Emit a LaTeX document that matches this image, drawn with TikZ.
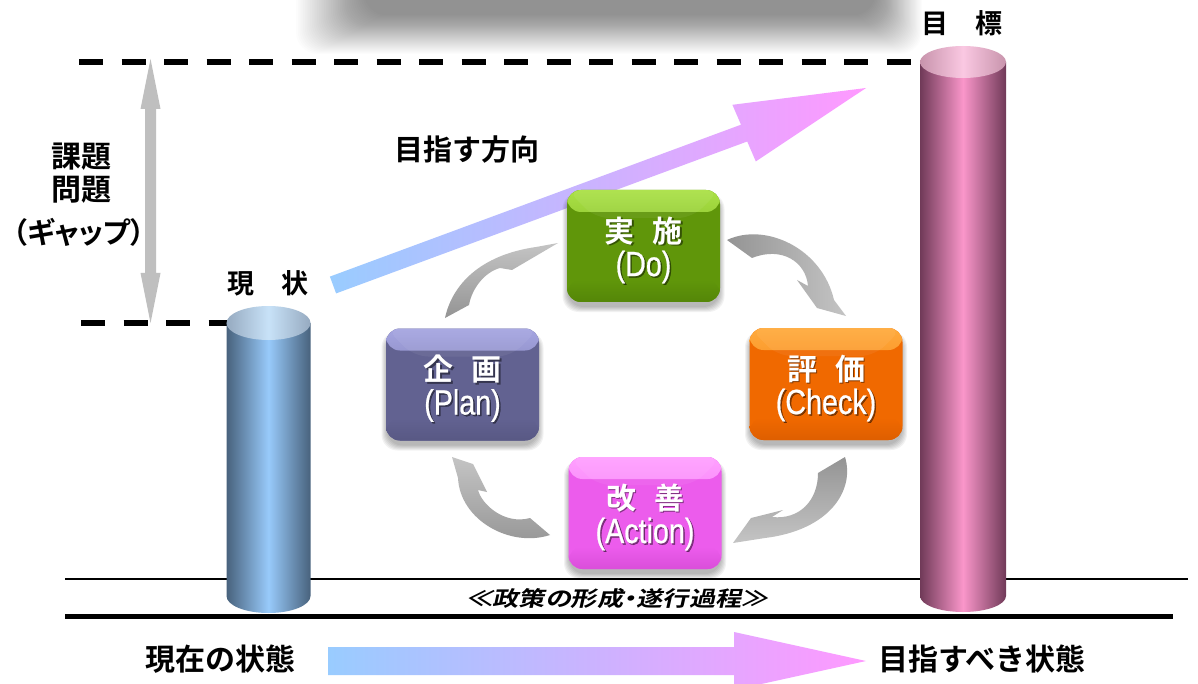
\documentclass[tikz,border=0pt]{standalone}
\usepackage{fontspec}
\newfontfamily\jpb{Noto Sans CJK JP Bold}
\newfontfamily\jpbp{Noto Sans CJK JP Bold}[RawFeature=+palt]
\newfontfamily\jpbi{Noto Sans CJK JP Bold}[FakeSlant=0.22,FakeStretch=1.25,RawFeature=+palt]
\newfontfamily\latn{Liberation Sans}[FakeStretch=0.82,FakeBold=0.6]

% palette
\definecolor{doMain}{RGB}{96,150,10}
\definecolor{doLight}{RGB}{170,225,70}
\definecolor{doDark}{RGB}{84,134,8}
\definecolor{planMain}{RGB}{98,98,145}
\definecolor{planLight}{RGB}{165,165,225}
\definecolor{planDark}{RGB}{88,88,132}
\definecolor{checkMain}{RGB}{240,105,0}
\definecolor{checkLight}{RGB}{255,170,60}
\definecolor{checkDark}{RGB}{222,94,0}
\definecolor{actMain}{RGB}{236,92,236}
\definecolor{actLight}{RGB}{255,160,255}
\definecolor{actDark}{RGB}{218,78,218}
\definecolor{arBlue}{RGB}{153,204,255}
\definecolor{arPink}{RGB}{255,153,255}
\definecolor{arrDark}{RGB}{148,148,148}
\definecolor{arrLight}{RGB}{196,196,196}
\definecolor{gapGray}{RGB}{191,191,191}
\definecolor{cylBEdge}{RGB}{72,98,125}
\definecolor{cylBMid}{RGB}{152,202,250}
\definecolor{cylBLidA}{RGB}{150,170,192}
\definecolor{cylBLidB}{RGB}{200,226,248}
\definecolor{cylPEdge}{RGB}{112,58,88}
\definecolor{cylPMid}{RGB}{250,150,202}
\definecolor{cylPLidA}{RGB}{200,148,172}
\definecolor{cylPLidB}{RGB}{250,200,226}

\tikzset{
  pdcabox/.style={rounded corners=14pt, minimum width=153pt, minimum height=112pt,
                  inner sep=0pt, draw=none},
  kanjitxt/.style={font=\jpb\fontsize{30}{32}\selectfont},
  latintxt/.style={font=\latn\fontsize{35}{36}\selectfont},
  lbl/.style={font=\jpb\fontsize{#1}{#1}\selectfont, text=black},
  lbl/.default=28,
  gapdash/.style={line width=6pt, dash pattern=on 24pt off 18.5pt},
}

% one coloured PDCA box with its soft shadow and two lines of shadowed text
\newcommand\cyclebox[6]{%
  \foreach \k in {1,...,6}{
    \fill[black,opacity=0.05,rounded corners=16pt]
      ({#2-75-\k},{#3-50-0.5*\k}) rectangle ({#2+75+\k},{#3+60+\k});
  }
  \node[pdcabox, fill=#4Main, path picture={
      \shade[top color=#4Light, bottom color=#4Main]
        (path picture bounding box.north west) rectangle
        ([yshift=-22pt]path picture bounding box.north east);
      \shade[top color=#4Main, bottom color=#4Dark]
        ([yshift=22pt]path picture bounding box.south west) rectangle
        (path picture bounding box.south east);
      \fill[white,opacity=0.06]
        (path picture bounding box.north west) -- ++(28pt,-28pt) -- ++(97pt,0pt)
        -- (path picture bounding box.north east) -- cycle;
    }] (#1) at (#2,#3) {};
  \node[kanjitxt, text=black, opacity=0.45, xshift=1.5pt, yshift=-1.5pt] (#1ks) at (#2,{#3-15}) {#5};
  \node[kanjitxt, text=white] (#1k) at (#2,{#3-15}) {#5};
  \node[latintxt, text=black, opacity=0.45, xshift=1.5pt, yshift=-1.5pt] (#1ls) at (#2,{#3+21}) {#6};
  \node[latintxt, text=white] (#1l) at (#2,{#3+21}) {#6};
}

\begin{document}
\begin{tikzpicture}[x=1pt,y=-1pt]
\path[use as bounding box] (0,0) rectangle (1198,684);
\fill[white] (0,0) rectangle (1198,684);

% blurred band along the top edge
\foreach \i in {0,...,39}{
  \pgfmathsetmacro\ta{296+1.75*\i}
  \pgfmathsetmacro\tb{922-1.2*\i}
  \pgfmathsetmacro\tc{54-1.0*\i}
  \fill[black,opacity=0.013,rounded corners=22pt] (\ta,-40) rectangle (\tb,\tc);
}

% level lines of the gap
\draw[gapdash] (79,62) -- (922,62);
\draw[gapdash] (81,323) -- (228,323);

% gap double arrow
\coordinate (gapTop) at (150.5,59);
\coordinate (gapBot) at (150.5,323);
\fill[gapGray] (gapTop) -- (160.5,109) -- (156,109) -- (156,273) -- (160.5,273)
  -- (gapBot) -- (140.5,273) -- (145,273) -- (145,109) -- (140.5,109) -- cycle;

% ground line
\draw[line width=2pt] (65,579) -- (1188,579);

% labels on the left
\node[lbl=30] (kadai) at (81,157) {課題};
\node[lbl=30] (mondai) at (81,190) {問題};
\node[font=\jpbp\fontsize{29}{29}\selectfont] (gap) at (79,232) {（ギャップ）};
\node[lbl=27] (genjo) at (268,283) {現　状};
\node[lbl=27] (mokuhyo) at (962,23) {目　標};
\node[lbl=29] (mezasu) at (467,150) {目指す方向};

% current-state cylinder
\shade[left color=cylBEdge, right color=cylBEdge, middle color=cylBMid]
  (226.5,323) -- (226.5,596)
  .. controls (226.5,605.4) and (245.3,613) .. (268.5,613)
  .. controls (291.7,613) and (310.5,605.4) .. (310.5,596)
  -- (310.5,323) -- cycle;
\shade[left color=cylBLidA, right color=cylBLidA, middle color=cylBLidB]
  (268.5,323) ellipse (42 and 17);

% target cylinder
\shade[left color=cylPEdge, right color=cylPEdge, middle color=cylPMid]
  (920,62) -- (920,596)
  .. controls (920,604.8) and (939.3,612) .. (963,612)
  .. controls (986.7,612) and (1006,604.8) .. (1006,596)
  -- (1006,62) -- cycle;
\shade[left color=cylPLidA, right color=cylPLidA, middle color=cylPLidB]
  (963,62) ellipse (43 and 16);

\draw[line width=5pt] (65,616) -- (1173,616);

% rising direction arrow
\shade[left color=arBlue, right color=arPink]
  (329.9,276.6) -- (741.0,124.7) -- (732.4,104.8) -- (866,88)
  -- (755.8,161.4) -- (747.2,141.5) -- (336.1,293.4) -- cycle;

% curved cycle arrows
\shade[top color=arrLight, bottom color=arrDark]
  (445,318) .. controls (452,285) and (480,255) .. (536,247) -- (558,243)
  -- (512,270) -- (500,268) .. controls (485,272) and (472,288) .. (469,305) -- cycle;
\shade[left color=arrDark, right color=arrLight]
  (727,240) .. controls (765,222) and (822,248) .. (834,300) -- (846,316)
  -- (817,308) -- (797,280) -- (808,286) .. controls (806,262) and (782,246) .. (752,258) -- cycle;
\shade[top color=arrDark, bottom color=arrLight]
  (845,457) .. controls (855,490) and (830,530) .. (765,538) -- (733,543)
  -- (751,518) -- (783,510) -- (772,517) .. controls (800,520) and (818,500) .. (818,473) -- cycle;
\shade[top color=arrLight, bottom color=arrDark]
  (550,535) .. controls (510,548) and (460,520) .. (458,478) -- (452,457)
  -- (473,464) -- (487,492) -- (478,490) .. controls (482,505) and (505,525) .. (530,518) -- cycle;

% PDCA boxes
\cyclebox{doBox}{643.5}{246}{do}{実\hspace{18pt}施}{(Do)}
\cyclebox{planBox}{462.5}{384.5}{plan}{企\hspace{18pt}画}{(Plan)}
\cyclebox{checkBox}{826}{384}{check}{評\hspace{18pt}価}{(Check)}
\cyclebox{actBox}{645}{513}{act}{改\hspace{18pt}善}{(Action)}

% caption of the cycle
\node[font=\jpbi\fontsize{21}{21}\selectfont] (process) at (617,599) {≪政策の形成・遂行過程≫};

% bottom arrow from current to desired state
\node[lbl=30] (nowState) at (220,659) {現在の状態};
\node[lbl=30] (goalState) at (982,659) {目指すべき状態};
\shade[left color=arBlue, right color=arPink]
  (328,647) -- (734,647) -- (734,632) -- (866,661) -- (734,690) -- (734,675) -- (328,675) -- cycle;
\end{tikzpicture}
\end{document}
